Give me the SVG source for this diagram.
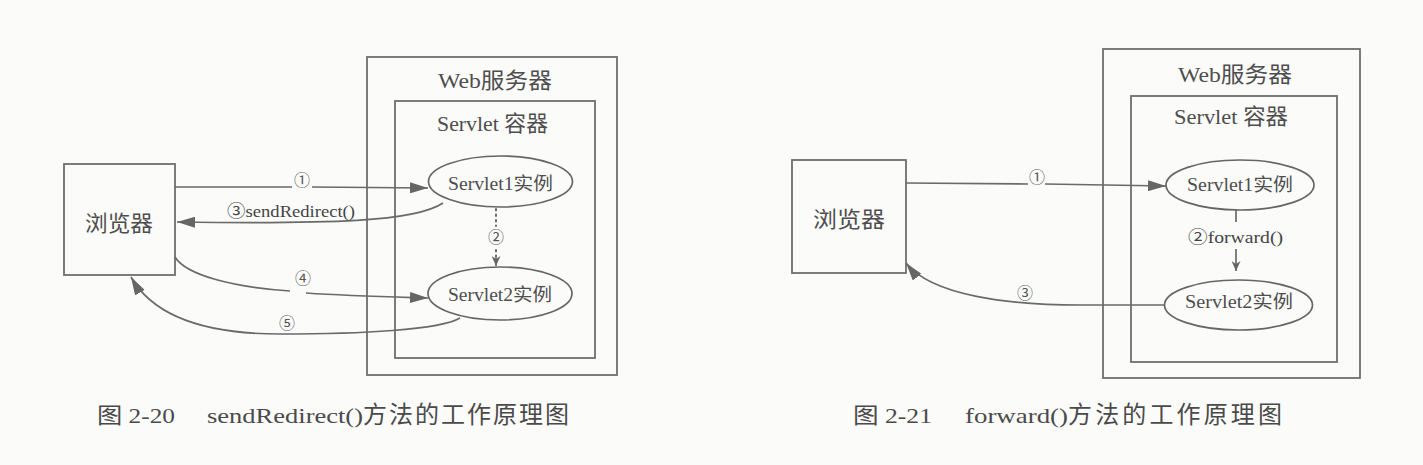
<svg xmlns="http://www.w3.org/2000/svg" width="1423" height="465" viewBox="0 0 1423 465">
<style>
  .bg { fill: #fbfbfa; }
  .box { fill: none; stroke: #6e6e6e; stroke-width: 1.8; }
  .ell { fill: none; stroke: #666; stroke-width: 1.7; }
  .ln { fill: none; stroke: #6a6a6a; stroke-width: 1.7; }
  .dot { fill: none; stroke: #6a6a6a; stroke-width: 2; stroke-dasharray: 1.5 4; stroke-linecap: round; }
  .t { font-family: "Liberation Serif", "Noto Sans CJK SC", serif; fill: #4e4e4e; }
  .big { font-size: 22px; }
  .mid { font-size: 18px; }
  .num { font-family: "Noto Sans CJK SC", "DejaVu Sans", sans-serif; font-size: 16px; fill: #555; }
  .lbl { font-size: 17px; fill: #444; }
  .cap { font-size: 22px; fill: #4a4a4a; }
  .capc { font-size: 24px; }
</style>
<defs>
  <marker id="ah" markerUnits="userSpaceOnUse" viewBox="0 0 18 11" refX="18" refY="5.5" markerWidth="18" markerHeight="11" orient="auto">
    <path d="M0,0 L18,5.5 L0,11 z" fill="#666"/>
  </marker>
  <marker id="ahs" markerUnits="userSpaceOnUse" viewBox="0 0 10 9" refX="10" refY="4.5" markerWidth="10" markerHeight="9" orient="auto">
    <path d="M0,0 L10,4.5 L0,9 L3,4.5 z" fill="#666"/>
  </marker>
</defs>
<rect class="bg" x="0" y="0" width="1423" height="465"/>

<!-- ===== Figure 2-20 ===== -->
<g id="fig20-webserver">
  <rect class="box" x="367" y="57" width="250" height="318"/>
  <text class="t big" x="438" y="88" textLength="114" lengthAdjust="spacingAndGlyphs">Web服务器</text>
</g>
<g id="fig20-container">
  <rect class="box" x="395" y="101" width="200" height="257"/>
  <text class="t big" x="437" y="131" textLength="111" lengthAdjust="spacingAndGlyphs">Servlet 容器</text>
</g>
<g id="fig20-browser">
  <rect class="box" x="64" y="164" width="111" height="111"/>
  <text class="t big" x="85" y="231" textLength="68" lengthAdjust="spacingAndGlyphs">浏览器</text>
</g>
<g id="fig20-servlet1">
  <ellipse class="ell" cx="500.5" cy="181.5" rx="72" ry="25.5"/>
  <text class="t mid" x="448" y="190" textLength="105" lengthAdjust="spacingAndGlyphs">Servlet1实例</text>
</g>
<g id="fig20-servlet2">
  <ellipse class="ell" cx="500" cy="293.5" rx="72" ry="26.5"/>
  <text class="t mid" x="448" y="301" textLength="104" lengthAdjust="spacingAndGlyphs">Servlet2实例</text>
</g>
<g id="fig20-connectors">
  <path class="ln" d="M175,187 L292,187 M312,187 L428,188" marker-end="url(#ah)"/>
  <text class="num" x="302" y="186" text-anchor="middle">①</text>
  <path class="ln" d="M443,203 C415,222 330,224 177,222" marker-end="url(#ah)"/>
  <text class="t lbl" x="227" y="217" textLength="128" lengthAdjust="spacingAndGlyphs">③sendRedirect()</text>
  <path class="dot" d="M496,209 L496,226 M496,250 L496,258"/>
  <path class="ln" d="M496,258 L496,266" marker-end="url(#ahs)" stroke-width="1"/>
  <text class="num" x="496" y="243" text-anchor="middle">②</text>
  <path class="ln" d="M175,257 C186,275 232,287 290,291"/>
  <path class="ln" d="M306,293 C350,296 395,297 428,298" marker-end="url(#ah)"/>
  <text class="num" x="303" y="284" text-anchor="middle">④</text>
  <path class="ln" d="M460,318 C440,330 360,334 280,334 C200,334 152,314 131,277" marker-end="url(#ah)"/>
  <text class="num" x="287" y="329" text-anchor="middle">⑤</text>
</g>
<text class="t cap" y="423"><tspan x="97" textLength="78" lengthAdjust="spacingAndGlyphs">图 2-20</tspan><tspan x="207" textLength="156" lengthAdjust="spacingAndGlyphs">sendRedirect()</tspan><tspan class="capc" x="363" textLength="206" lengthAdjust="spacing">方法的工作原理图</tspan></text>

<!-- ===== Figure 2-21 ===== -->
<g id="fig21-webserver">
  <rect class="box" x="1103" y="49" width="257" height="329"/>
  <text class="t big" x="1178" y="82" textLength="114" lengthAdjust="spacingAndGlyphs">Web服务器</text>
</g>
<g id="fig21-container">
  <rect class="box" x="1131" y="96" width="206" height="266"/>
  <text class="t big" x="1174" y="124" textLength="114" lengthAdjust="spacingAndGlyphs">Servlet 容器</text>
</g>
<g id="fig21-browser">
  <rect class="box" x="792" y="160" width="114" height="113"/>
  <text class="t big" x="813" y="227" textLength="72" lengthAdjust="spacingAndGlyphs">浏览器</text>
</g>
<g id="fig21-servlet1">
  <ellipse class="ell" cx="1240" cy="185" rx="74" ry="25"/>
  <text class="t mid" x="1187" y="191" textLength="106" lengthAdjust="spacingAndGlyphs">Servlet1实例</text>
</g>
<g id="fig21-servlet2">
  <ellipse class="ell" cx="1238.5" cy="305" rx="74" ry="25"/>
  <text class="t mid" x="1185" y="308" textLength="108" lengthAdjust="spacingAndGlyphs">Servlet2实例</text>
</g>
<g id="fig21-connectors">
  <path class="ln" d="M906,183 L1028,184 M1045,184 L1166,186" marker-end="url(#ah)"/>
  <text class="num" x="1037" y="183" text-anchor="middle">①</text>
  <path class="ln" d="M1236,210 L1236,222"/>
  <path class="ln" d="M1236,249 L1236,271" marker-end="url(#ahs)" stroke-width="1.4"/>
  <text class="t lbl" x="1188" y="243" textLength="95" lengthAdjust="spacingAndGlyphs">②forward()</text>
  <path class="ln" d="M1164,305 L1080,305 C1010,305 932,296 906,263" marker-end="url(#ah)"/>
  <text class="num" x="1025" y="299" text-anchor="middle">③</text>
</g>
<text class="t cap" y="423"><tspan x="853" textLength="79" lengthAdjust="spacingAndGlyphs">图 2-21</tspan><tspan x="965" textLength="103" lengthAdjust="spacingAndGlyphs">forward()</tspan><tspan class="capc" x="1068" textLength="214" lengthAdjust="spacing">方法的工作原理图</tspan></text>
</svg>
